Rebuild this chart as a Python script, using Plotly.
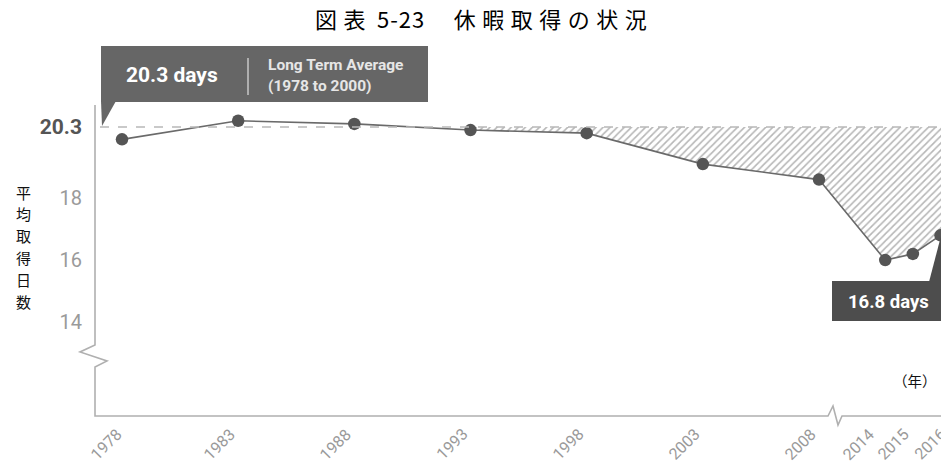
import plotly.graph_objects as go

# ---- data ----
years = [1978, 1983, 1988, 1993, 1998, 2003, 2008, 2014, 2015, 2016]
avg_days = [19.9, 20.5, 20.4, 20.2, 20.1, 19.1, 18.6, 16.0, 16.2, 16.8]
year_labels = [str(y) for y in years]
long_term_avg = 20.3
y_tick_vals = [14, 16, 18, 20.3]
y_tick_text = ["14", "16", "18",
               "<b><span style='color:#555555;font-size:21px'>20.3</span></b>"]
title_parts = ["図表", " ", "5-23", "　休暇取得の状況"]
y_title = "平均取得日数"
x_unit = "（年）"
avg_label = "20.3 days"
avg_caption = ["Long Term Average", "(1978 to 2000)"]
last_label = "16.8 days"
fill_from = 1993


# broken x scale: years after 2008 are drawn compressed past the gap
def xpos(y):
    if y <= 2008:
        return float(y)
    return 2010.85 + 1.19 * (y - 2014)


xs = [xpos(y) for y in years]

# ---- page geometry (pixels) ----
W, H = 941, 464
L, R, T, B = 95, 0, 105, 48
PW, PH = W - L - R, H - T - B


def px(x):
    return (x - L) / PW


def py(y):
    return (H - B - y) / PH


fig = go.Figure()

# hatched gap between the long-term average and the actual values
fill_idx = [i for i, y in enumerate(years) if y >= fill_from]
fill_x = [xs[i] for i in fill_idx] + [2013.4]
fill_y = [avg_days[i] for i in fill_idx] + [avg_days[-1]]
fig.add_trace(go.Scatter(x=fill_x, y=[long_term_avg] * len(fill_x), mode="lines",
                         line=dict(width=0), hoverinfo="skip", showlegend=False))
fig.add_trace(go.Scatter(x=fill_x, y=fill_y, mode="lines", line=dict(width=0),
                         fill="tonexty", fillcolor="rgba(0,0,0,0)",
                         fillpattern=dict(shape="/", fgcolor="#6e6e6e", bgcolor="white",
                                          size=5, solidity=0.32),
                         hoverinfo="skip", showlegend=False))

# the series itself
fig.add_trace(go.Scatter(x=xs, y=avg_days, mode="lines+markers",
                         line=dict(color="#6a6a6a", width=1.6),
                         marker=dict(color="#555555", size=12.5),
                         showlegend=False, cliponaxis=False))

shapes = []
axis_col = "#b0b0b0"

# axis lines with break marks
axis_pts = [(95, 105), (95, 345), (80, 352), (107, 361), (95, 367), (95, 416),
            (828, 416), (833, 406), (838, 425), (842, 416), (941, 416)]
path = "M " + " L ".join(f"{px(a):.5f},{py(b):.5f}" for a, b in axis_pts)
shapes.append(dict(type="path", xref="paper", yref="paper", path=path,
                   line=dict(color=axis_col, width=1.6)))

# long-term average reference line
shapes.append(dict(type="line", xref="paper", yref="y", x0=px(100), x1=1.0,
                   y0=long_term_avg, y1=long_term_avg,
                   line=dict(color="#b8b8b8", width=1.3, dash="dash")))

# average callout box
shapes.append(dict(type="rect", xref="paper", yref="paper",
                   x0=px(101), x1=px(428), y0=py(102), y1=py(46),
                   fillcolor="#666666", line=dict(width=0)))
shapes.append(dict(type="path", xref="paper", yref="paper",
                   path=f"M {px(101)},{py(101)} L {px(116)},{py(101)} L {px(102)},{py(126)} Z",
                   fillcolor="#666666", line=dict(width=0)))
shapes.append(dict(type="line", xref="paper", yref="paper",
                   x0=px(248), x1=px(248), y0=py(58), y1=py(95),
                   line=dict(color="#c8c8c8", width=1.5)))

# latest-value callout box
shapes.append(dict(type="rect", xref="paper", yref="paper",
                   x0=px(832), x1=px(945), y0=py(321), y1=py(281),
                   fillcolor="#4d4d4d", line=dict(width=0)))
shapes.append(dict(type="path", xref="paper", yref="paper",
                   path=f"M {px(929)},{py(282)} L {px(943)},{py(282)} L {px(941)},{py(236)} Z",
                   fillcolor="#4d4d4d", line=dict(width=0)))

ann = []
jp = "Noto Sans CJK JP"
num = "Roboto"

# title: wide tracking on the kanji, tight on the figure number
spacing = [6.5, 0, 1, 6.5]
title_html = "".join(f"<span style='letter-spacing:{s}px'>{t}</span>"
                     for t, s in zip(title_parts, spacing))
ann.append(dict(text=title_html, xref="paper", yref="paper", x=px(313), y=py(18),
                xanchor="left", yanchor="middle", showarrow=False,
                font=dict(family=jp, size=22, color="#000000")))

# vertical axis title, one character per row
for k, ch in enumerate(y_title):
    ann.append(dict(text=ch, xref="paper", yref="paper", x=px(23), y=py(192 + 21.8 * k),
                    xanchor="center", yanchor="middle", showarrow=False,
                    font=dict(family=jp, size=15, color="#111111")))

ann.append(dict(text=f"<b>{avg_label}</b>", xref="paper", yref="paper",
                x=px(172), y=py(75), xanchor="center", yanchor="middle", showarrow=False,
                font=dict(family=num, size=21, color="white")))
for k, line in enumerate(avg_caption):
    ann.append(dict(text=f"<b>{line}</b>", xref="paper", yref="paper",
                    x=px(266), y=py(65 + 21 * k), xanchor="left", yanchor="middle",
                    showarrow=False, font=dict(family=num, size=15.5, color="#e6e6e6")))

ann.append(dict(text=f"<b>{last_label}</b>", xref="paper", yref="paper",
                x=px(888), y=py(302), xanchor="center", yanchor="middle", showarrow=False,
                font=dict(family=num, size=18.5, color="white")))

ann.append(dict(text=x_unit, xref="paper", yref="paper", x=px(915), y=py(380),
                xanchor="center", yanchor="middle", showarrow=False,
                font=dict(family=jp, size=14.5, color="#111111")))

# rotated year labels under the axis; the compressed years are spread apart a little
label_shift = {1978: -16, 2014: -27, 2015: -20, 2016: -11}
for xv, yr, lab in zip(xs, years, year_labels):
    ann.append(dict(text=lab, xref="x", yref="paper", x=xv, y=py(444),
                    xshift=label_shift.get(yr, -19),
                    xanchor="center", yanchor="middle", textangle=-45, showarrow=False,
                    font=dict(family=num, size=16, color="#9a9a9a")))

fig.update_layout(
    width=W, height=H,
    margin=dict(l=L, r=R, t=T, b=B, pad=0),
    paper_bgcolor="white", plot_bgcolor="white",
    shapes=shapes, annotations=ann,
    xaxis=dict(range=[1976.838, 2013.251], showticklabels=False,
               showgrid=False, zeroline=False, showline=False, ticks=""),
    yaxis=dict(range=[10.963, 21.01], tickvals=y_tick_vals, ticktext=y_tick_text,
               showgrid=False, zeroline=False, showline=False, ticks="",
               ticklabelstandoff=12,
               tickfont=dict(family=num, size=20, color="#9a9a9a")),
)

fig.write_html("out.html")
